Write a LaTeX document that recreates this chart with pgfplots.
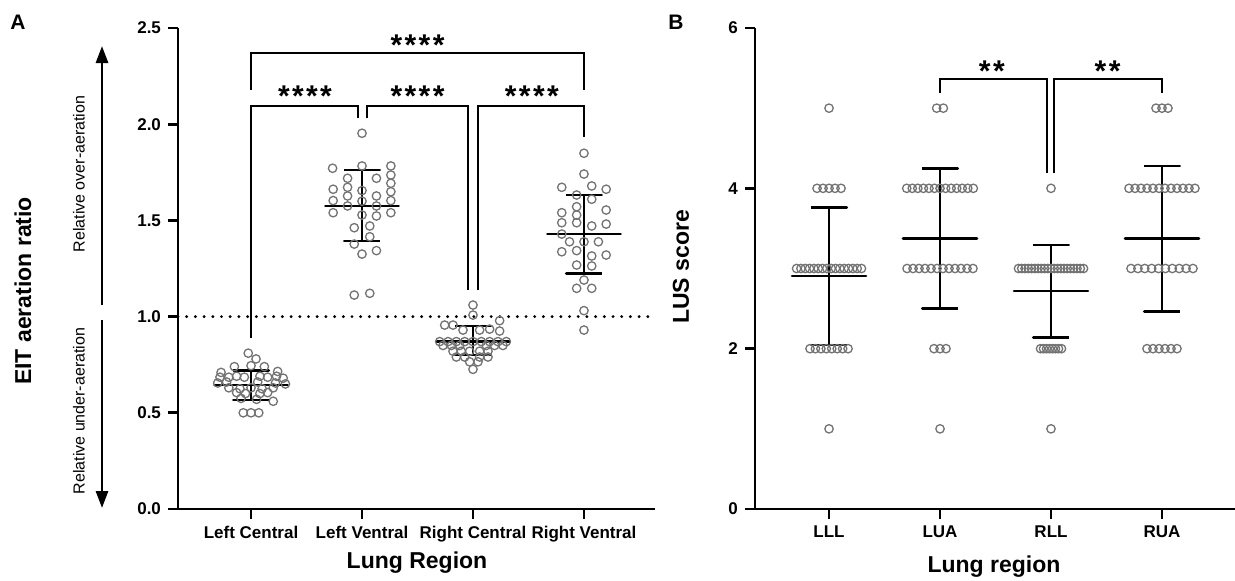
\documentclass[border=0pt]{standalone}
\usepackage{pgfplots}
\pgfplotsset{compat=1.18}
\usepackage{fontspec}
\setmainfont{Liberation Sans}
\usetikzlibrary{arrows.meta}

% 1 px of the reference = 0.5pt
\newcommand{\tl}{\fontsize{8.5}{9}\selectfont\bfseries}
\newcommand{\ttl}{\fontsize{11.5}{12}\selectfont\bfseries}
\newcommand{\stars}{\fontsize{15}{15}\selectfont\bfseries}
\newcommand{\sk}{\kern1.2pt}

\pgfplotsset{
  panel/.style={
    scale only axis, anchor=south west,
    axis x line*=bottom, axis y line*=left,
    axis line style={line width=1.4pt},
    major tick style={line width=1.4pt, black},
    tick align=outside, major tick length=5pt,
    xtick={0,1,2,3},
    ticklabel style={font=\tl},
    /pgf/number format/assume math mode=true,
    clip=false,
  },
  pts/.style={only marks, mark=o, mark size=2.1pt,
    mark options={line width=0.65pt, draw=black!55}},
  eb/.style={line width=1.35pt, black, line join=round, mark=none},
  br/.style={line width=1pt, black, mark=none},
}

\begin{document}
\begin{tikzpicture}
\path (0,0) rectangle (617.5pt,290pt);

% ---------------- panel A
\begin{axis}[panel, at={(89pt,35.5pt)}, width=238.5pt, height=240.5pt,
  xmin=-0.658, xmax=3.64, ymin=0, ymax=2.5,
  ytick={0,0.5,1,1.5,2,2.5},
  yticklabel style={/pgf/number format/.cd, fixed, fixed zerofill, precision=1},
  xticklabels={Left Central, Left Ventral, Right Central, Right Ventral}]

\addplot[line width=1.6pt, line cap=round, dash pattern=on 0pt off 4.35pt]
  coordinates {(-0.658,1) (3.64,1)};

% Left Central
\addplot[pts] coordinates {
 (-0.025,0.81) (0.045,0.78) (-0.15,0.74) (0,0.745) (0.12,0.74) (0.24,0.715) (-0.27,0.71)
 (-0.28,0.685) (-0.2,0.685) (-0.13,0.69) (-0.06,0.685) (0.08,0.69) (0.15,0.685) (0.23,0.69) (0.29,0.68)
 (-0.3,0.655) (-0.22,0.66) (0.06,0.66) (0.22,0.655) (0.31,0.65)
 (-0.2,0.63) (-0.1,0.625) (0,0.63) (0.1,0.625) (0.2,0.63)
 (-0.13,0.605) (-0.05,0.6) (0.08,0.6) (0.15,0.605)
 (-0.09,0.575) (0.05,0.57) (0.2,0.56)
 (-0.07,0.5) (0,0.5) (0.07,0.5)};
% Left Ventral
\addplot[pts] coordinates {
 (1,1.953) (0.735,1.771) (1,1.783) (1.26,1.783) (1.26,1.736) (0.87,1.719) (1.13,1.719)
 (1.26,1.693) (0.74,1.662) (0.87,1.672) (1,1.655) (1.26,1.649) (0.87,1.627) (1.13,1.627)
 (0.74,1.603) (1.26,1.603) (1,1.6) (0.87,1.575) (1.13,1.575) (0.74,1.54) (1.26,1.54)
 (1,1.528) (1.13,1.523) (0.93,1.462) (1.07,1.471) (1.07,1.415) (0.93,1.377) (1,1.325)
 (1.13,1.343) (0.93,1.112) (1.07,1.121)};
% Right Central
\addplot[pts] coordinates {
 (2,1.06) (2,1.008) (2.24,0.979) (1.745,0.956) (1.82,0.956) (1.91,0.93) (2.06,0.93) (2.15,0.935) (2.24,0.925)
 (1.7,0.87) (1.775,0.87) (1.85,0.87) (1.925,0.87) (2,0.87) (2.075,0.87) (2.15,0.87) (2.225,0.87) (2.3,0.87)
 (1.73,0.85) (1.805,0.85) (1.88,0.85) (2.12,0.85) (2.195,0.85) (2.27,0.85)
 (1.82,0.82) (1.895,0.82) (1.97,0.82) (2.06,0.82) (2.135,0.82)
 (1.85,0.79) (1.925,0.79) (2.06,0.79) (2.135,0.79)
 (1.97,0.765) (2.045,0.765) (2,0.726)};
% Right Ventral
\addplot[pts] coordinates {
 (3,1.849) (3,1.741) (2.8,1.672) (3.07,1.679) (3.2,1.662) (2.934,1.632) (3.07,1.61)
 (2.934,1.571) (3.2,1.554) (2.8,1.54) (2.934,1.528) (2.8,1.488) (2.934,1.488) (3.07,1.471)
 (3.2,1.481) (2.8,1.429) (2.87,1.389) (3,1.389) (3.13,1.389) (2.8,1.337) (2.934,1.343)
 (3.07,1.315) (3.2,1.32) (2.934,1.268) (3.07,1.263) (3,1.19) (2.934,1.147) (3.07,1.147)
 (3,1.031) (3,0.93)};

% mean +- SD
\addplot[eb] coordinates {(-0.16,0.72) (0.16,0.72) (0,0.72) (0,0.645) (-0.33,0.645) (0.33,0.645) (0,0.645) (0,0.567) (-0.16,0.567) (0.16,0.567)};
\addplot[eb] coordinates {(0.84,1.762) (1.16,1.762) (1,1.762) (1,1.575) (0.67,1.575) (1.33,1.575) (1,1.575) (1,1.393) (0.84,1.393) (1.16,1.393)};
\addplot[eb] coordinates {(1.84,0.951) (2.16,0.951) (2,0.951) (2,0.87) (1.67,0.87) (2.33,0.87) (2,0.87) (2,0.80) (1.84,0.80) (2.16,0.80)};
\addplot[eb] coordinates {(2.84,1.632) (3.16,1.632) (3,1.632) (3,1.429) (2.67,1.429) (3.33,1.429) (3,1.429) (3,1.225) (2.84,1.225) (3.16,1.225)};

% significance brackets
\addplot[br] coordinates {(0,0.89) (0,2.095) (0.961,2.095) (0.961,2.03)};
\addplot[br] coordinates {(1.043,2.03) (1.043,2.095) (1.958,2.095) (1.958,1.138)};
\addplot[br] coordinates {(2.048,1.138) (2.048,2.095) (3,2.095) (3,1.935)};
\addplot[br] coordinates {(0,2.18) (0,2.372) (3,2.372) (3,2.18)};
\node[anchor=base, font=\stars, inner sep=0] at (axis cs:0.486,2.09) {*\sk*\sk*\sk*};
\node[anchor=base, font=\stars, inner sep=0] at (axis cs:1.5,2.09) {*\sk*\sk*\sk*};
\node[anchor=base, font=\stars, inner sep=0] at (axis cs:2.53,2.09) {*\sk*\sk*\sk*};
\node[anchor=base, font=\stars, inner sep=0] at (axis cs:1.5,2.357) {*\sk*\sk*\sk*};
\end{axis}

% ---------------- panel B
\begin{axis}[panel, at={(377.5pt,35.5pt)}, width=240pt, height=240.5pt,
  xmin=-0.667, xmax=3.658, ymin=0, ymax=6,
  ytick={0,2,4,6},
  xticklabels={LLL, LUA, RLL, RUA}]

% LLL
\addplot[pts] coordinates {
 (0,5) (0,1)
 (-0.108,4) (-0.054,4) (0,4) (0.054,4) (0.108,4)
 (-0.2925,3) (-0.2535,3) (-0.2145,3) (-0.1755,3) (-0.1365,3) (-0.0975,3) (-0.0585,3) (-0.0195,3)
 (0.0195,3) (0.0585,3) (0.0975,3) (0.1365,3) (0.1755,3) (0.2145,3) (0.2535,3) (0.2925,3)
 (-0.1715,2) (-0.1225,2) (-0.0735,2) (-0.0245,2) (0.0245,2) (0.0735,2) (0.1225,2) (0.1715,2)};
% LUA
\addplot[pts] coordinates {
 (0.97,5) (1.03,5) (1,1)
 (0.7,4) (0.75,4) (0.8,4) (0.85,4) (0.9,4) (0.95,4) (1,4) (1.05,4) (1.1,4) (1.15,4) (1.2,4) (1.25,4) (1.3,4)
 (0.703,3) (0.757,3) (0.811,3) (0.865,3) (0.919,3) (0.973,3) (1.027,3) (1.081,3) (1.135,3) (1.189,3) (1.243,3) (1.297,3)
 (0.946,2) (1,2) (1.054,2)};
% RLL
\addplot[pts] coordinates {
 (2,4) (2,1)
 (1.707,3) (1.736,3) (1.766,3) (1.795,3) (1.824,3) (1.854,3) (1.883,3) (1.912,3) (1.941,3) (1.971,3) (2,3)
 (2.029,3) (2.059,3) (2.088,3) (2.117,3) (2.146,3) (2.176,3) (2.205,3) (2.234,3) (2.264,3) (2.293,3)
 (1.9055,2) (1.9325,2) (1.9595,2) (1.9865,2) (2.0135,2) (2.0405,2) (2.0675,2) (2.0945,2)};
% RUA
\addplot[pts] coordinates {
 (2.946,5) (3,5) (3.054,5)
 (2.703,4) (2.757,4) (2.811,4) (2.865,4) (2.919,4) (2.973,4) (3.027,4) (3.081,4) (3.135,4) (3.189,4) (3.243,4) (3.297,4)
 (2.721,3) (2.783,3) (2.845,3) (2.907,3) (2.969,3) (3.031,3) (3.093,3) (3.155,3) (3.217,3) (3.279,3)
 (2.865,2) (2.919,2) (2.973,2) (3.027,2) (3.081,2) (3.135,2)};

% mean +- SD
\addplot[eb] coordinates {(-0.16,3.758) (0.16,3.758) (0,3.758) (0,2.906) (-0.333,2.906) (0.333,2.906) (0,2.906) (0,2.046) (-0.16,2.046) (0.16,2.046)};
\addplot[eb] coordinates {(0.84,4.25) (1.16,4.25) (1,4.25) (1,3.376) (0.667,3.376) (1.333,3.376) (1,3.376) (1,2.503) (0.84,2.503) (1.16,2.503)};
\addplot[eb] coordinates {(1.84,3.293) (2.16,3.293) (2,3.293) (2,2.72) (1.667,2.72) (2.333,2.72) (2,2.72) (2,2.14) (1.84,2.14) (2.16,2.14)};
\addplot[eb] coordinates {(2.84,4.28) (3.16,4.28) (3,4.28) (3,3.376) (2.667,3.376) (3.333,3.376) (3,3.376) (3,2.46) (2.84,2.46) (3.16,2.46)};

% significance brackets
\addplot[br] coordinates {(1,5.185) (1,5.36) (1.961,5.36) (1.961,4.187)};
\addplot[br] coordinates {(2.03,4.187) (2.03,5.36) (3,5.36) (3,5.185)};
\node[anchor=base, font=\stars, inner sep=0] at (axis cs:1.467,5.33) {*\sk*};
\node[anchor=base, font=\stars, inner sep=0] at (axis cs:2.51,5.33) {*\sk*};
\end{axis}

% ---------------- labels and side arrows
\node[font=\fontsize{10.5}{11}\selectfont\bfseries] at (9pt,279pt) {A};
\node[font=\fontsize{10.5}{11}\selectfont\bfseries] at (338pt,279pt) {B};
\node[font=\ttl, rotate=90] at (11.5pt,144.5pt) {EIT aeration ratio};
\node[font=\fontsize{8}{9}\selectfont, rotate=90] at (39.5pt,203pt) {Relative over-aeration};
\node[font=\fontsize{8}{9}\selectfont, rotate=90] at (39.5pt,84.5pt) {Relative under-aeration};
\draw[line width=1.4pt, -{Triangle[length=8.5pt,width=6pt]}] (51pt,137.5pt) -- (51pt,267pt);
\draw[line width=1.4pt, -{Triangle[length=8.5pt,width=6pt]}] (51pt,130pt) -- (51pt,36pt);
\node[font=\ttl] at (208.5pt,8.5pt) {Lung Region};
\node[font=\ttl] at (497pt,6.5pt) {Lung region};
\node[font=\ttl, rotate=90] at (340.5pt,156.5pt) {LUS score};

\pgfresetboundingbox
\path (0,0) rectangle (617.5pt,290pt);
\end{tikzpicture}
\end{document}
